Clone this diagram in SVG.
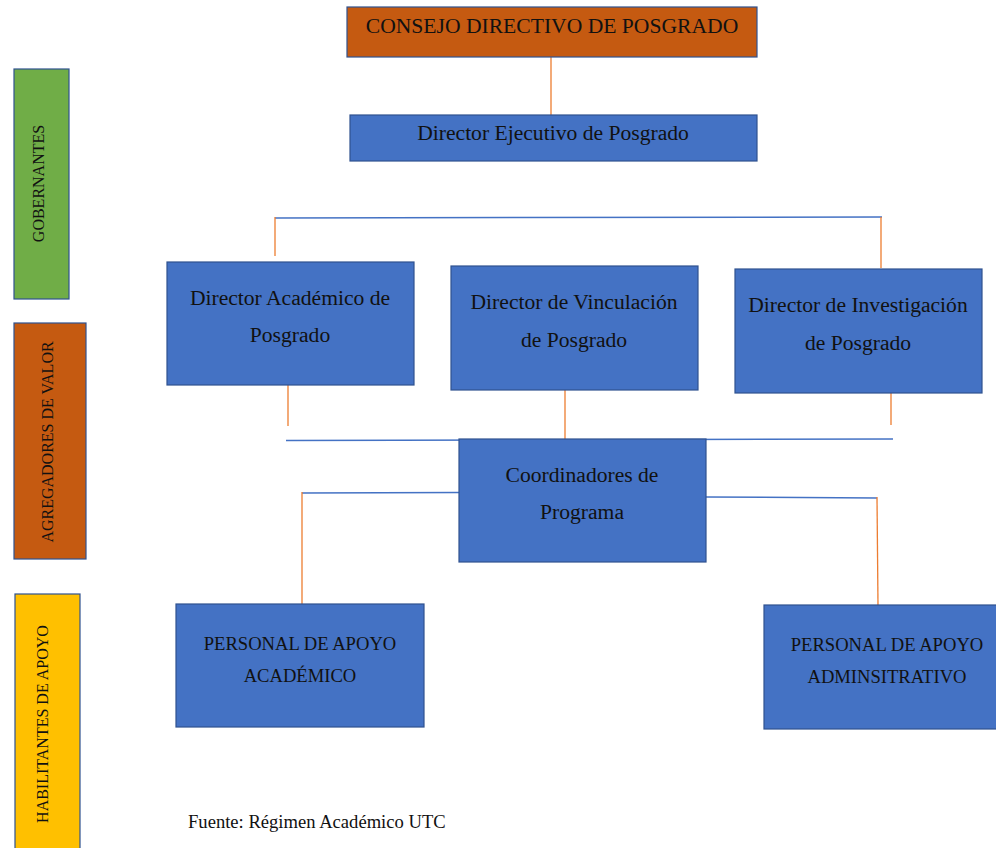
<svg xmlns="http://www.w3.org/2000/svg" width="996" height="848" viewBox="0 0 996 848">
<style>
text{font-family:"Liberation Serif","Times New Roman",serif;fill:#111;}
.box{fill:#4472C4;stroke:#2F528F;stroke-width:1.2;}
.t{font-size:21.6px;text-anchor:middle;}
.c{font-size:18.6px;text-anchor:middle;}
.side{font-size:16px;text-anchor:middle;}
.ob{stroke:#ED7D31;stroke-width:1.3;fill:none;}
.bl{stroke:#4472C4;stroke-width:1.5;fill:none;}
</style>
<rect width="996" height="848" fill="#fff"/>
<g id="connectors">
<line class="ob" x1="551" y1="57" x2="551" y2="115"/>
<line class="bl" x1="275" y1="218" x2="882" y2="217"/>
<line class="ob" x1="275" y1="217" x2="275" y2="256"/>
<line class="ob" x1="881" y1="217" x2="881" y2="268"/>
<line class="ob" x1="288" y1="371" x2="288" y2="426"/>
<line class="ob" x1="565" y1="382" x2="565" y2="439"/>
<line class="ob" x1="891" y1="382" x2="891" y2="425"/>
<line class="bl" x1="286" y1="440.5" x2="893" y2="439"/>
<line class="bl" x1="302" y1="493" x2="459" y2="492.5"/>
<line class="ob" x1="302" y1="492" x2="302" y2="604"/>
<line class="bl" x1="706" y1="497" x2="877" y2="498"/>
<line class="ob" x1="877" y1="497" x2="878" y2="605"/>
</g>
<g id="consejo">
<rect x="347" y="7" width="410" height="50" fill="#C55A11" stroke="#2F528F" stroke-width="1.2"/>
<text class="t" x="552" y="33" font-size="22.6">CONSEJO DIRECTIVO DE POSGRADO</text>
</g>
<g id="ejecutivo">
<rect class="box" x="350" y="115" width="407" height="46"/>
<text class="t" x="553" y="140">Director Ejecutivo de Posgrado</text>
</g>
<g id="academico">
<rect class="box" x="167" y="262" width="247" height="123"/>
<text class="t" x="290" y="305">Director Académico de</text>
<text class="t" x="290" y="342">Posgrado</text>
</g>
<g id="vinculacion">
<rect class="box" x="451" y="266" width="247" height="124"/>
<text class="t" x="574" y="309">Director de Vinculación</text>
<text class="t" x="574" y="347">de Posgrado</text>
</g>
<g id="investigacion">
<rect class="box" x="735" y="269" width="247" height="124"/>
<text class="t" x="858" y="312">Director de Investigación</text>
<text class="t" x="858" y="350">de Posgrado</text>
</g>
<g id="coordinadores">
<rect class="box" x="459" y="439" width="247" height="123"/>
<text class="t" x="582" y="482">Coordinadores de</text>
<text class="t" x="582" y="519">Programa</text>
</g>
<g id="apoyo-academico">
<rect class="box" x="176" y="604" width="248" height="123"/>
<text class="c" x="300" y="650">PERSONAL DE APOYO</text>
<text class="c" x="300" y="682">ACADÉMICO</text>
</g>
<g id="apoyo-administrativo">
<rect class="box" x="764" y="605" width="240" height="124"/>
<text class="c" x="887" y="651">PERSONAL DE APOYO</text>
<text class="c" x="887" y="683">ADMINSITRATIVO</text>
</g>
<g id="gobernantes">
<rect x="14" y="69" width="55" height="230" fill="#70AD47" stroke="#2F528F" stroke-width="1.2"/>
<text class="side" font-size="17" transform="translate(44,183.5) rotate(-90)">GOBERNANTES</text>
</g>
<g id="agregadores">
<rect x="14" y="323" width="72" height="236" fill="#C55A11" stroke="#2F528F" stroke-width="1.2"/>
<text class="side" transform="translate(53,442) rotate(-90)">AGREGADORES DE VALOR</text>
</g>
<g id="habilitantes">
<rect x="15" y="594" width="65" height="260" fill="#FFC000" stroke="#2F528F" stroke-width="1.2"/>
<text class="side" transform="translate(48,724) rotate(-90)">HABILITANTES DE APOYO</text>
</g>
<g id="fuente">
<text x="188" y="828" font-size="18.6">Fuente: Régimen Académico UTC</text>
</g>
</svg>
